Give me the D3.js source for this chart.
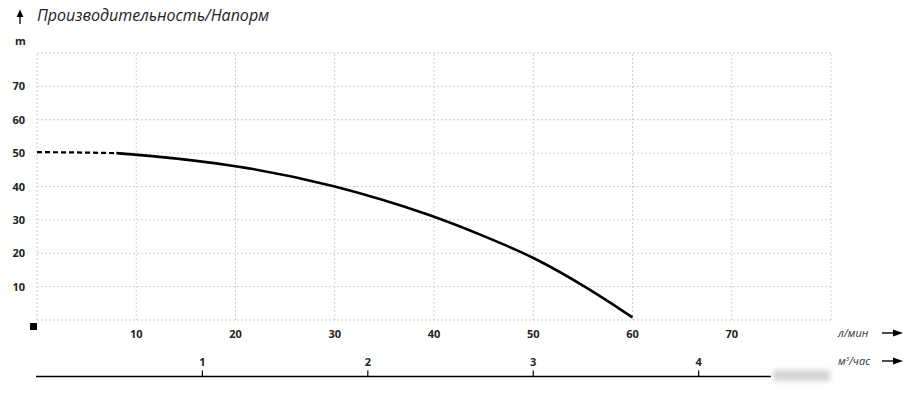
<!DOCTYPE html>
<html>
<head>
<meta charset="utf-8">
<script src="https://cdn.jsdelivr.net/npm/d3@7"></script>
<style>
  body { margin: 0; background: #fff; }
  svg { display: block; }
</style>
</head>
<body>
<svg id="chart" width="921" height="401"></svg>
<script>
// data
const flowTicks = [10, 20, 30, 40, 50, 60, 70];   // л/мин
const headTicks = [10, 20, 30, 40, 50, 60, 70];   // m
const m3Ticks = [1, 2, 3, 4];                      // м³/час
const dashedFlow = [0, 4, 8];
const dashedHead = [50.3, 50.2, 50];
const solidFlow = [8, 10, 20, 30, 40, 45.3, 50, 55.4, 60];
const solidHead = [50, 49.6, 46.6, 40.5, 31.3, 24.8, 19, 9.8, 0.8];

const svg = d3.select("#chart");
const font = "'Open Sans', 'DejaVu Sans', sans-serif";

const x = d3.scaleLinear().domain([0, 80]).range([37, 831]);
const y = d3.scaleLinear().domain([0, 80]).range([320, 53]);

// grid (dotted)
const grid = svg.append("g").attr("stroke", "#cfcfcf").attr("stroke-width", 1).attr("stroke-dasharray", "2,2").attr("fill", "none");
d3.range(0, 81, 10).forEach(v => {
    grid.append("line").attr("x1", x(v)).attr("x2", x(v)).attr("y1", y(0)).attr("y2", y(80));
    grid.append("line").attr("x1", x(0)).attr("x2", x(80)).attr("y1", y(v)).attr("y2", y(v));
});

// y axis labels
svg.append("g").selectAll("text").data(headTicks).join("text")
    .attr("x", 25).attr("y", d => y(d) + 4)
    .attr("text-anchor", "end").attr("font-family", font).attr("font-weight", "bold")
    .attr("font-size", 11).attr("fill", "#222").text(d => d);

svg.append("text").attr("x", 15).attr("y", 45).attr("font-family", font).attr("font-weight", "bold")
    .attr("font-size", 11).attr("fill", "#222").text("m");

// x axis labels
svg.append("g").selectAll("text").data(flowTicks).join("text")
    .attr("x", d => x(d)).attr("y", 338)
    .attr("text-anchor", "middle").attr("font-family", font).attr("font-weight", "bold")
    .attr("font-size", 11).attr("fill", "#222").text(d => d);

// origin square
svg.append("rect").attr("x", 30).attr("y", 323).attr("width", 7).attr("height", 7).attr("fill", "#000");

// title + arrow
svg.append("line").attr("x1", 20).attr("x2", 20).attr("y1", 24).attr("y2", 14).attr("stroke", "#000").attr("stroke-width", 1.3);
svg.append("path").attr("d", "M20,9.5 L16.6,17 L23.4,17 Z").attr("fill", "#000");
svg.append("text").attr("x", 37).attr("y", 21).attr("font-family", font).attr("font-style", "italic")
    .attr("font-size", 16).attr("fill", "#222").text("Производительность/Напорм");

// curve
const dashLine = d3.line().x(d => x(d[0])).y(d => y(d[1])).curve(d3.curveNatural);
const solidLine = d3.line().x(d => x(d[0])).y(d => y(d[1])).curve(d3.curveBasis);
svg.append("path").datum(dashedFlow.map((f, i) => [f, dashedHead[i]]))
    .attr("d", dashLine).attr("fill", "none").attr("stroke", "#000").attr("stroke-width", 2.2).attr("stroke-dasharray", "5,3");
svg.append("path").datum(solidFlow.map((f, i) => [f, solidHead[i]]))
    .attr("d", solidLine).attr("fill", "none").attr("stroke", "#000").attr("stroke-width", 2.6);

// second axis in м³/час
const m3x = v => x(v * 1000 / 60);
svg.append("line").attr("x1", 36).attr("x2", 771).attr("y1", 376.5).attr("y2", 376.5).attr("stroke", "#000").attr("stroke-width", 1.6);
const m3g = svg.append("g").selectAll("g").data(m3Ticks).join("g");
m3g.append("line").attr("x1", d => m3x(d)).attr("x2", d => m3x(d)).attr("y1", 370.5).attr("y2", 376.5)
    .attr("stroke", "#000").attr("stroke-width", 1.2);
m3g.append("text").attr("x", d => m3x(d)).attr("y", 366).attr("text-anchor", "middle")
    .attr("font-family", font).attr("font-weight", "bold").attr("font-size", 11).attr("fill", "#222").text(d => d);

// blurred patch at the end of the axis
const defs = svg.append("defs");
defs.append("filter").attr("id", "blur").attr("x", "-20%").attr("y", "-50%").attr("width", "140%").attr("height", "200%")
    .append("feGaussianBlur").attr("stdDeviation", 2.5);
svg.append("rect").attr("x", 773).attr("y", 370).attr("width", 57).attr("height", 11).attr("fill", "#d4d4d4").attr("filter", "url(#blur)");

// unit labels with arrows
function unitLabel(yy, parts) {
    const t = svg.append("text").attr("x", 838).attr("y", yy + 4).attr("font-family", font).attr("font-style", "italic")
        .attr("font-size", 11).attr("fill", "#333");
    parts.forEach(p => {
        const ts = t.append("tspan").text(p.t);
        if (p.sup) ts.attr("font-size", 6).attr("dy", -4);
        if (p.down) ts.attr("dy", 4);
    });
    svg.append("line").attr("x1", 882).attr("x2", 895).attr("y1", yy).attr("y2", yy).attr("stroke", "#000").attr("stroke-width", 1.4);
    svg.append("path").attr("d", `M903,${yy} L893,${yy - 3.5} L893,${yy + 3.5} Z`).attr("fill", "#000");
}
unitLabel(333, [{ t: "л/мин" }]);
unitLabel(361, [{ t: "м" }, { t: "3", sup: true }, { t: "/час", down: true }]);
</script>
</body>
</html>
